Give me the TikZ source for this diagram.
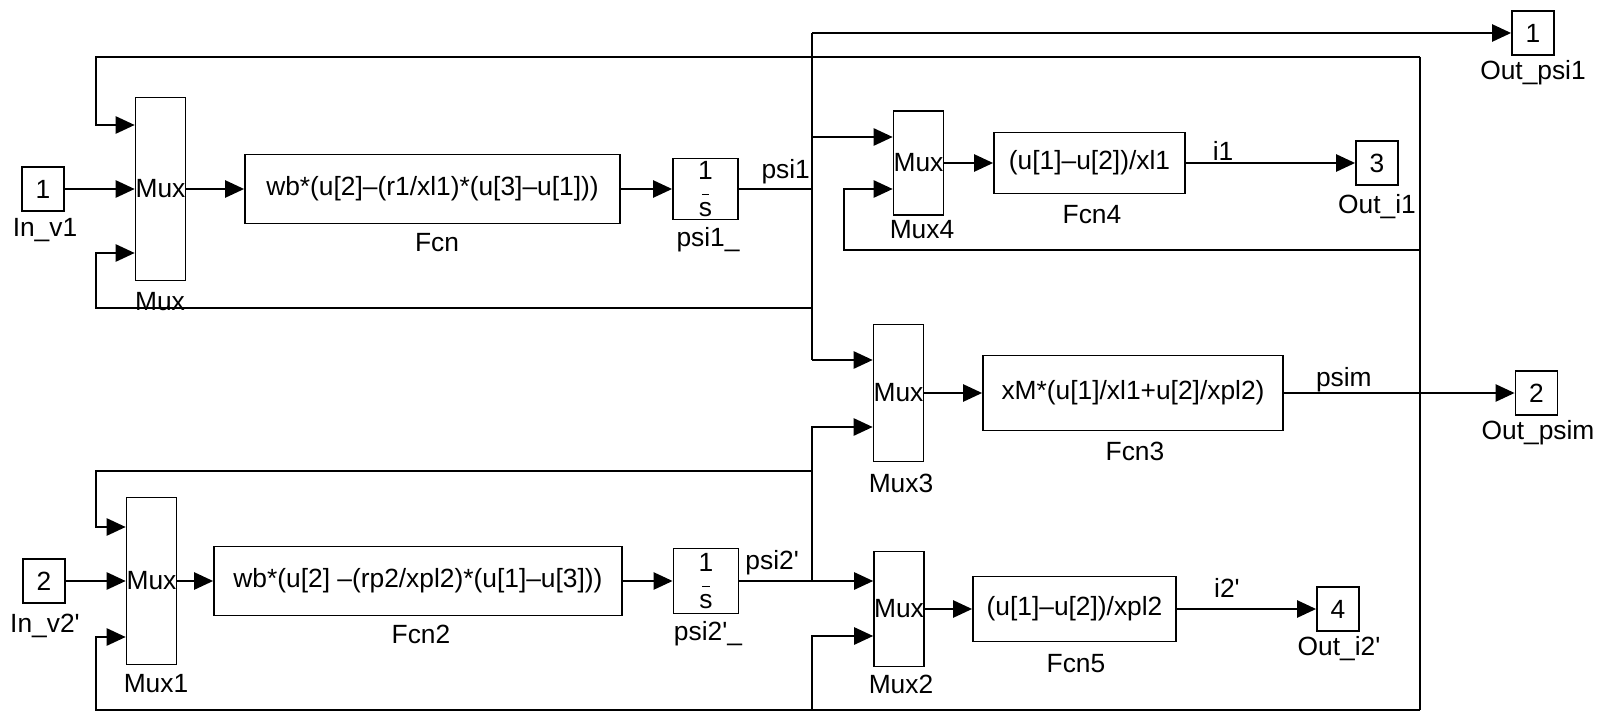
\documentclass[tikz,border=0pt]{standalone}
\usepackage{fontspec}
\setmainfont{Liberation Sans}
\usetikzlibrary{arrows.meta,positioning}

\tikzset{
  blk/.style={draw, line width=1pt, inner sep=0pt, font=\fontsize{15}{18}\selectfont},
  port/.style={blk, minimum width=0.84cm, minimum height=0.88cm},
  muxbox/.style={blk, minimum width=0.86cm},
  fcnbox/.style={blk},
  intbox/.style={blk, minimum width=1.3cm, align=center, font=\fontsize{15}{11}\selectfont},
  lab/.style={font=\fontsize{15}{18}\selectfont, inner sep=0pt},
  wire/.style={line width=1.4pt},
  sig/.style={wire, -{Triangle[length=0.38cm,width=0.34cm]}},
}

\begin{document}
\begin{tikzpicture}[x=0.02cm, y=-0.02cm]
    \useasboundingbox (0,0) rectangle (1599,716);

    % first channel
    \node[port] (in1) at (43,189) {1};
    \node[muxbox, minimum height=3.66cm] (mux) at (160.5,189) {Mux};
    \node[fcnbox, minimum width=7.5cm, minimum height=1.38cm] (fcn) at (432.5,189) {wb*(u[2]--(r1/xl1)*(u[3]--u[1]))};
    \node[intbox, minimum height=1.22cm] (int1) at (705.5,189) {1\\[-2pt]\rule{4pt}{0.9pt}\\[1pt]s};
    \node[muxbox, minimum height=2.08cm] (mux4) at (918.5,163) {Mux};
    \node[fcnbox, minimum width=3.82cm, minimum height=1.22cm] (fcn4) at (1089.5,163) {(u[1]--u[2])/xl1};
    \node[port] (out3) at (1377,163) {3};
    \node[port] (out1) at (1533,33) {1};

    % mixing
    \node[muxbox, minimum height=2.74cm] (mux3) at (898.5,393) {Mux};
    \node[fcnbox, minimum width=6cm, minimum height=1.5cm] (fcn3) at (1133,393) {xM*(u[1]/xl1+u[2]/xpl2)};
    \node[port] (out2) at (1536.5,393) {2};

    % second channel
    \node[port] (in2) at (44,581) {2};
    \node[muxbox, minimum height=3.34cm] (mux1) at (151.5,581) {Mux};
    \node[fcnbox, minimum width=8.16cm, minimum height=1.38cm] (fcn2) at (418,581) {wb*(u[2] --(rp2/xpl2)*(u[1]--u[3]))};
    \node[intbox, minimum height=1.3cm] (int2) at (706,581) {1\\[-2pt]\rule{4pt}{0.9pt}\\[1pt]s};
    \node[muxbox, minimum height=2.3cm] (mux2) at (899,609) {Mux};
    \node[fcnbox, minimum width=4.06cm, minimum height=1.3cm] (fcn5) at (1074.5,609) {(u[1]--u[2])/xpl2};
    \node[port] (out4) at (1338,609) {4};

    % block names
    \node[lab] (in1-name) at (45,230) {In\_v1};
    \node[lab] (mux-name) at (160,302) {Mux};
    \node[lab] (fcn-name) at (437,243) {Fcn};
    \node[lab] (int1-name) at (708,240) {psi1\_};
    \node[lab] (mux4-name) at (922,230) {Mux4};
    \node[lab] (fcn4-name) at (1092,215) {Fcn4};
    \node[lab] (out3-name) at (1377,207) {Out\_i1};
    \node[lab] (out1-name) at (1533,73) {Out\_psi1};
    \node[lab] (mux3-name) at (901,483) {Mux3};
    \node[lab] (fcn3-name) at (1135,451) {Fcn3};
    \node[lab] (out2-name) at (1538,433) {Out\_psim};
    \node[lab] (in2-name) at (45,626) {In\_v2\textquotesingle};
    \node[lab] (mux1-name) at (156,684) {Mux1};
    \node[lab] (fcn2-name) at (421,634) {Fcn2};
    \node[lab] (int2-name) at (708,634) {psi2\textquotesingle\_};
    \node[lab] (mux2-name) at (901,684) {Mux2};
    \node[lab] (fcn5-name) at (1076,664) {Fcn5};
    \node[lab] (out4-name) at (1339,649) {Out\_i2\textquotesingle};

    \coordinate (p1) at (812,189);
    \coordinate (p1top) at (812,33);
    \coordinate (p1bot) at (812,360);
    \coordinate (p1a) at (812,137);
    \coordinate (p1c) at (812,308);
    \coordinate (m-in3) at (96,253);
    \coordinate (p2) at (812,581);
    \coordinate (p2top) at (812,427);
    \coordinate (p2a) at (812,471);
    \coordinate (m1-in1) at (96,527);
    \coordinate (psT) at (1420,57);
    \coordinate (psB) at (1420,710);
    \coordinate (ps4) at (1420,250);
    \coordinate (fbT) at (96,125);
    \coordinate (fb4) at (844,189);
    \coordinate (fbB) at (96,637);
    \coordinate (ps2) at (812,710);
    \coordinate (fb2) at (812,636);

    \draw[sig] (in1) -- (mux);
    \draw[sig] (mux) -- (fcn);
    \draw[sig] (fcn) -- (int1);
    \draw[wire] (int1) -- node[lab, above=2pt, pos=0.64] {psi1} (p1);
    \draw[wire] (p1top) -- (p1bot);
    \draw[sig] (p1top) -- (out1);
    \draw[sig] (p1a) -- (mux4.west |- p1a);
    \draw[sig] (p1bot) -- (mux3.west |- p1bot);
    \draw[sig] (p1c) -| (m-in3) -- (mux.west |- m-in3);
    \draw[sig] (mux4) -- (fcn4);
    \draw[sig] (fcn4) -- node[lab, above=1pt, pos=0.22] {i1} (out3);

    \draw[sig] (mux3) -- (fcn3);
    \draw[sig] (fcn3) -- node[lab, above=0pt, pos=0.26] {psim} (out2);
    \draw[wire] (psT) -- (psB);
    \draw[sig] (psT) -| (fbT) -- (mux.west |- fbT);
    \draw[sig] (ps4) -| (fb4) -- (mux4.west |- fb4);
    \draw[sig] (psB) -| (fbB) -- (mux1.west |- fbB);
    \draw[sig] (ps2) -- (fb2) -- (mux2.west |- fb2);

    \draw[sig] (in2) -- (mux1);
    \draw[sig] (mux1) -- (fcn2);
    \draw[sig] (fcn2) -- (int2);
    \draw[sig] (int2) -- node[lab, above=3pt, pos=0.245] {psi2\textquotesingle} (mux2.west |- int2);
    \draw[sig] (p2) -- (p2top) -- (mux3.west |- p2top);
    \draw[sig] (p2a) -| (m1-in1) -- (mux1.west |- m1-in1);
    \draw[sig] (mux2) -- (fcn5);
    \draw[sig] (fcn5) -- node[lab, above=6pt, pos=0.36] {i2\textquotesingle} (out4);
\end{tikzpicture}
\end{document}
